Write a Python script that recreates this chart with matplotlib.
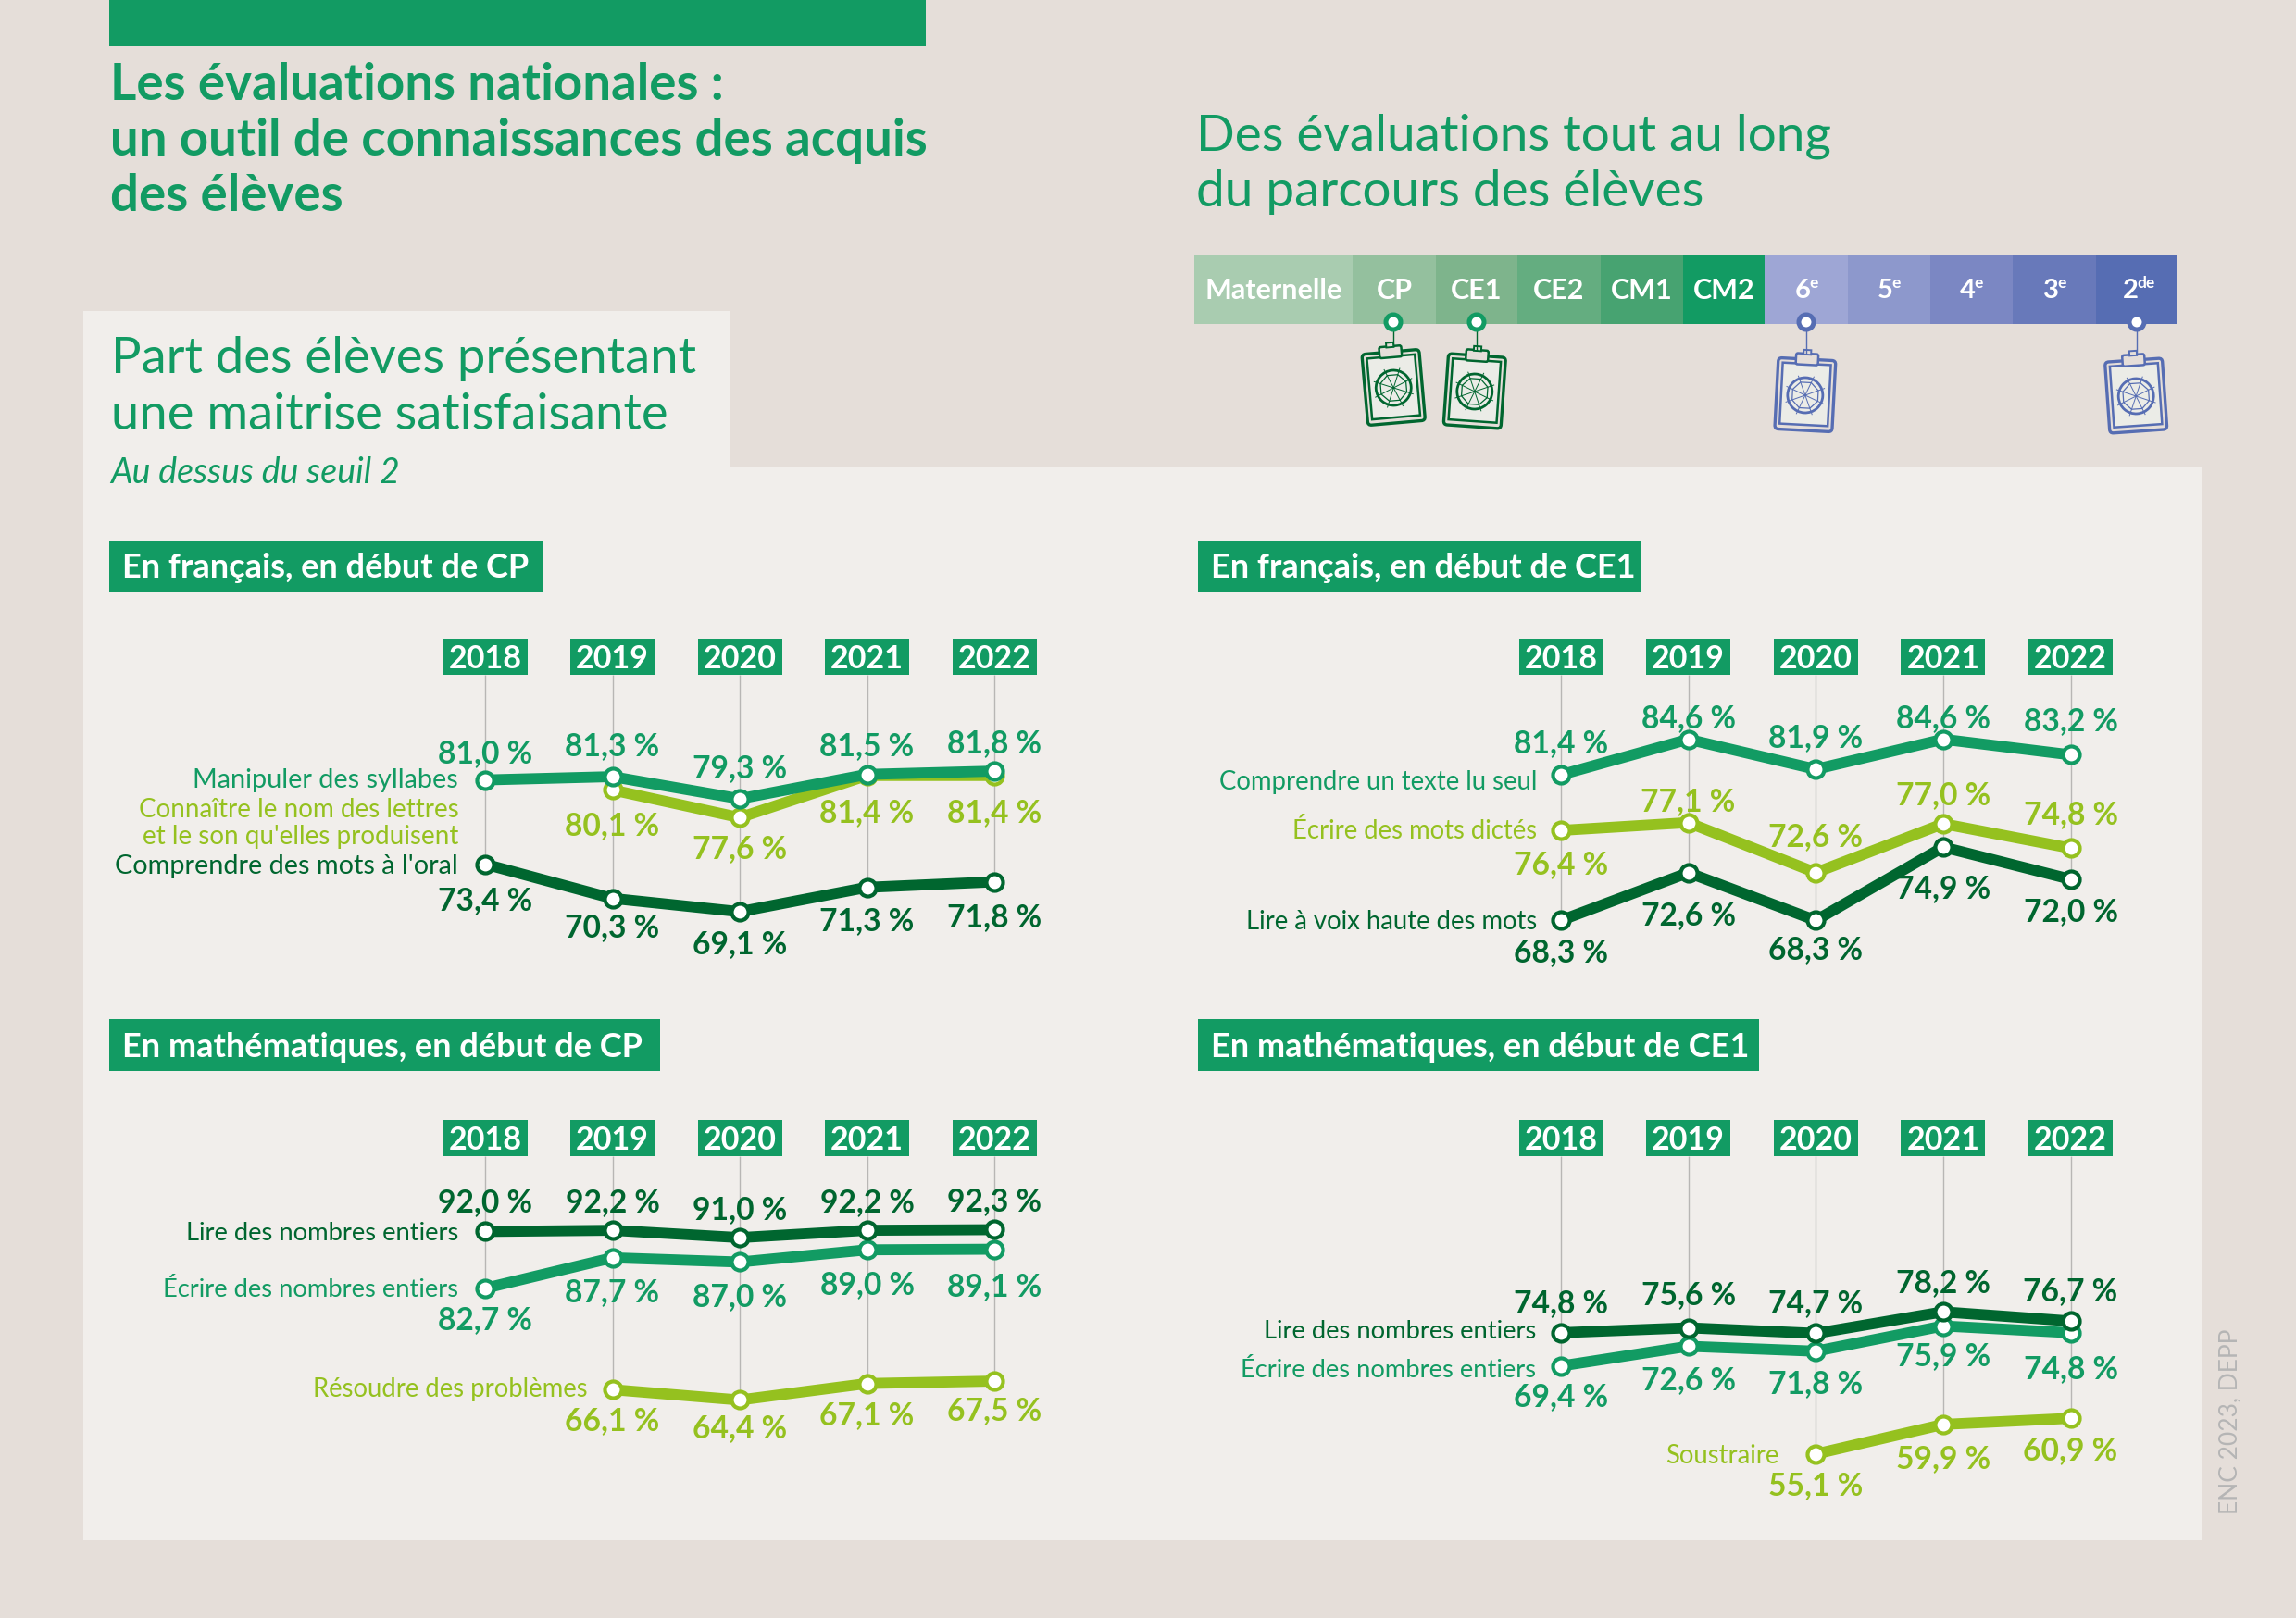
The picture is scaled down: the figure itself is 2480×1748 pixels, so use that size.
"""Les évaluations nationales : planche de quatre courbes + frise du parcours"""

import numpy as np
import matplotlib
matplotlib.use("Agg")
import matplotlib.pyplot as plt
from matplotlib.patches import Rectangle, FancyBboxPatch, Circle, Polygon
from matplotlib.transforms import Affine2D, blended_transform_factory

W, H = 2480, 1748
FONT = "Lato"
plt.rcParams["font.family"] = [FONT, "DejaVu Sans"]

BG = "#e5ded9"
PANEL = "#f1eeeb"
GREEN = "#129b63"
LIME = "#95c11f"
DARK = "#00662f"
BLUE = "#566db3"
GRID = "#b8b6b4"
NA = np.nan

years = ["2018", "2019", "2020", "2021", "2022"]

fr_cp_syllabes = [81.0, 81.3, 79.3, 81.5, 81.8]
fr_cp_lettres = [NA, 80.1, 77.6, 81.4, 81.4]
fr_cp_oral = [73.4, 70.3, 69.1, 71.3, 71.8]

fr_ce1_texte = [81.4, 84.6, 81.9, 84.6, 83.2]
fr_ce1_dictes = [76.4, 77.1, 72.6, 77.0, 74.8]
fr_ce1_voix = [68.3, 72.6, 68.3, 74.9, 72.0]

ma_cp_lire = [92.0, 92.2, 91.0, 92.2, 92.3]
ma_cp_ecrire = [82.7, 87.7, 87.0, 89.0, 89.1]
ma_cp_problemes = [NA, 66.1, 64.4, 67.1, 67.5]

ma_ce1_lire = [74.8, 75.6, 74.7, 78.2, 76.7]
ma_ce1_ecrire = [69.4, 72.6, 71.8, 75.9, 74.8]
ma_ce1_soustraire = [NA, NA, 55.1, 59.9, 60.9]

levels = ["Maternelle", "CP", "CE1", "CE2", "CM1", "CM2", "6", "5", "4", "3", "2"]
level_sup = ["", "", "", "", "", "", "e", "e", "e", "e", "de"]
level_edges = [1290, 1461, 1551, 1639, 1729, 1818, 1906, 1996, 2085, 2174, 2264, 2352]
level_colors = ["#a9ccb0", "#94c09e", "#7eb48c", "#64ad80", "#47a371", "#129b63",
                "#9ea6d5", "#8d98cc", "#7b87c3", "#6879ba", "#566db3"]

# panneaux: titre, rectangle du titre, x px, y haut/bas px, ylim
# series: (valeurs, couleur, libellé, décalage libellé px, décalages des valeurs px, taille libellé)
panels = [
    dict(title="En français, en début de CP", tag=(118, 584, 587, 640),
         x=(524, 1074), y=(729, 1040), ylim=(64.5, 90.5),
         series=[
             (fr_cp_lettres, LIME, "Connaître le nom des lettres\net le son qu'elles produisent",
              (-166, -36), [0, 37, 32, 38, 38], 20),
             (fr_cp_syllabes, GREEN, "Manipuler des syllabes", (-29, 0),
              [-31, -35, -35, -33, -32], 20.8),
             (fr_cp_oral, DARK, "Comprendre des mots à l'oral", (-29, -2),
              [38, 29, 33, 34, 36], 20.8),
         ]),
    dict(title="En français, en début de CE1", tag=(1294, 584, 1773, 640),
         x=(1686, 2236.5), y=(729, 1040), ylim=(64.5, 90.4),
         series=[
             (fr_ce1_texte, GREEN, "Comprendre un texte lu seul", (-26, -8),
              [-36, -25, -36, -25, -38], 19.8),
             (fr_ce1_dictes, LIME, "Écrire des mots dictés", (-26, 0),
              [35, -25, -41, -33, -38], 19.8),
             (fr_ce1_voix, DARK, "Lire à voix haute des mots", (-26, -2),
              [33, 44, 30, 43, 33], 19.8),
         ]),
    dict(title="En mathématiques, en début de CP", tag=(118, 1101, 713, 1157),
         x=(524, 1074), y=(1249, 1620), ylim=(48.1, 104.35),
         series=[
             (ma_cp_problemes, LIME, "Résoudre des problèmes", (-27, 0),
              [0, 32, 29, 32, 30], 19.8),
             (ma_cp_ecrire, GREEN, "Écrire des nombres entiers", (-29, -2),
              [32, 35, 36, 36, 38], 19.7),
             (ma_cp_lire, DARK, "Lire des nombres entiers", (-29, -2),
              [-33, -32, -32, -32, -32], 19.7),
         ]),
    dict(title="En mathématiques, en début de CE1", tag=(1294, 1101, 1900, 1157),
         x=(1686, 2236.5), y=(1249, 1620), ylim=(47.7, 103.5),
         series=[
             (ma_ce1_soustraire, LIME, "Soustraire", (-40, -2), [0, 0, 32, 35, 33], 19.8),
             (ma_ce1_ecrire, GREEN, "Écrire des nombres entiers", (-27, -5),
              [31, 35, 33, 31, 37], 19.7),
             (ma_ce1_lire, DARK, "Lire des nombres entiers", (-27, 1),
              [-34, -37, -34, -33, -34], 19.7),
         ]),
]


def draw_clipboard(ax, cx, cy, angle, color):
    """petite icône de bloc-notes, en pixels de la page"""
    tr = Affine2D().rotate_deg_around(cx, cy, angle) + ax.transData
    ax.add_patch(FancyBboxPatch((cx - 31, cy - 36), 62, 77, boxstyle="round,pad=0,rounding_size=4",
                                fc="none", ec=color, lw=2.4, transform=tr))
    ax.add_patch(Rectangle((cx - 26, cy - 31), 52, 66, fc="#ebece7", ec=color, lw=1.8, transform=tr))
    ax.add_patch(FancyBboxPatch((cx - 12, cy - 42), 24, 12, boxstyle="round,pad=0,rounding_size=2",
                                fc=BG, ec=color, lw=1.8, transform=tr))
    ax.add_patch(Rectangle((cx - 4, cy - 46), 8, 5, fc=BG, ec=color, lw=1.4, transform=tr))
    rc = cy + 3
    ax.add_patch(Circle((cx, rc), 19, fc="none", ec=color, lw=2.0, transform=tr))
    angs = np.deg2rad(np.arange(0, 360, 45) + 22.5)
    ax.add_patch(Polygon(np.c_[cx + 15 * np.cos(angs), rc + 15 * np.sin(angs)], closed=True,
                         fc="none", ec=color, lw=0.9, transform=tr))
    for a in angs:
        ax.plot([cx, cx + 22 * np.cos(a)], [rc, rc + 22 * np.sin(a)], color=color, lw=0.7, transform=tr)


def draw_panel(fig, p):
    left, right = p["x"]
    top, bottom = p["y"]
    ax = fig.add_axes([left / W, 1 - bottom / H, (right - left) / W, (bottom - top) / H])
    ax.set_xlim(0, len(years) - 1)
    ax.set_ylim(*p["ylim"])
    ax.axis("off")
    ax.patch.set_alpha(0)

    # traits verticaux jusqu'au point le plus bas de chaque année
    low = np.nanmin([s[0] for s in p["series"]], axis=0)
    ax.vlines(range(len(years)), low, p["ylim"][1], color=GRID, lw=1.0, zorder=1, clip_on=False)

    # étiquettes d'années
    tr = blended_transform_factory(ax.transData, ax.transAxes)
    box_w = 91 / ((right - left) / (len(years) - 1))
    box_h = 39 / (bottom - top)
    for i, year in enumerate(years):
        ax.add_patch(Rectangle((i - box_w / 2, 1), box_w, box_h, transform=tr, fc=GREEN,
                               ec="none", clip_on=False, zorder=2))
        ax.text(i, 1 + box_h / 2, year, transform=tr, ha="center", va="center_baseline",
                color="white", fontsize=24.5, fontweight="bold", zorder=3)

    for z, (vals, color, label, lab_off, offs, lab_size) in enumerate(p["series"]):
        ax.plot(range(len(years)), vals, color=color, lw=8.5, solid_capstyle="round",
                solid_joinstyle="miter", clip_on=False, zorder=4 + z, marker="o", ms=13,
                mfc="white", mec=color, mew=3.0)
        first = int(np.argmax(~np.isnan(vals)))
        ax.annotate(label, (first, vals[first]), xytext=lab_off, textcoords="offset pixels",
                    ha="right", va="center", color=color, fontsize=lab_size, linespacing=1.12,
                    annotation_clip=False, zorder=10)
        for i, v in enumerate(vals):
            if np.isnan(v):
                continue
            txt = f"{v:.1f} %".replace(".", ",")
            ax.annotate(txt, (i, v), xytext=(0, -offs[i] - 2), textcoords="offset pixels",
                        ha="center", va="center", color=color, fontsize=24.2, fontweight="bold",
                        annotation_clip=False, zorder=11)


def main():
    fig = plt.figure(figsize=(W / 100, H / 100), dpi=100, facecolor=BG)
    bg = fig.add_axes([0, 0, 1, 1])
    bg.set_xlim(0, W)
    bg.set_ylim(H, 0)
    bg.axis("off")

    bg.add_patch(Rectangle((118, 0), 882, 50, fc=GREEN, ec="none"))
    bg.add_patch(Rectangle((90, 505), 2288, 1159, fc=PANEL, ec="none"))
    bg.add_patch(Rectangle((90, 336), 699, 170, fc=PANEL, ec="none"))

    for y, line in zip((92, 152, 212), ("Les évaluations nationales :",
                                        "un outil de connaissances des acquis", "des élèves")):
        bg.text(119, y, line, color=GREEN, fontsize=39.3, fontweight="bold", va="center")
    for y, line in zip((147, 207), ("Des évaluations tout au long", "du parcours des élèves")):
        bg.text(1292, y, line, color=GREEN, fontsize=39.5, va="center")
    for y, line in zip((387, 448), ("Part des élèves présentant", "une maitrise satisfaisante")):
        bg.text(120, y, line, color=GREEN, fontsize=39.2, va="center")
    bg.text(119, 511, "Au dessus du seuil 2", color=GREEN, fontsize=27, style="italic", va="center")

    # frise des niveaux
    for i, name in enumerate(levels):
        x0, x1 = level_edges[i], level_edges[i + 1]
        bg.add_patch(Rectangle((x0, 276), x1 - x0, 74, fc=level_colors[i], ec="none"))
        xc = (x0 + x1) / 2
        if level_sup[i]:
            bg.text(xc - 3 * len(level_sup[i]) - 1, 314, name, color="white", fontsize=21,
                    fontweight="bold", ha="center", va="center")
            bg.text(xc + 6 - 3 * len(level_sup[i]), 306, level_sup[i], color="white", fontsize=12.5,
                    fontweight="bold", ha="left", va="center")
        else:
            bg.text(xc, 314, name, color="white", fontsize=22, fontweight="bold",
                    ha="center", va="center")

    for x, cx, cy, angle, color in ((1505, 1505, 416, -5, DARK), (1595, 1593, 420, 4, DARK),
                                    (1951, 1950, 424, 3, BLUE), (2308, 2307, 425, -4, BLUE)):
        bg.plot([x, x], [348, cy - 42], color=color, lw=1)
        bg.add_patch(Circle((x, 348), 8, fc="white", ec=GREEN if color == DARK else BLUE, lw=3.6, zorder=5))
        draw_clipboard(bg, cx, cy, angle, color)

    # titres de section
    for p in panels:
        x0, y0, x1, y1 = p["tag"]
        bg.add_patch(Rectangle((x0, y0), x1 - x0, y1 - y0, fc=GREEN, ec="none"))
        bg.text(x0 + 14, (y0 + y1) / 2 + 2, p["title"], color="white", fontsize=26, fontweight="bold",
                ha="left", va="center")

    bg.text(2409, 1536, "ENC 2023, DEPP", color="#b5b5b5", fontsize=19, rotation=90,
            ha="center", va="center")

    for p in panels:
        draw_panel(fig, p)

    fig.savefig("out.png", dpi=100, facecolor=BG)


if __name__ == "__main__":
    main()
